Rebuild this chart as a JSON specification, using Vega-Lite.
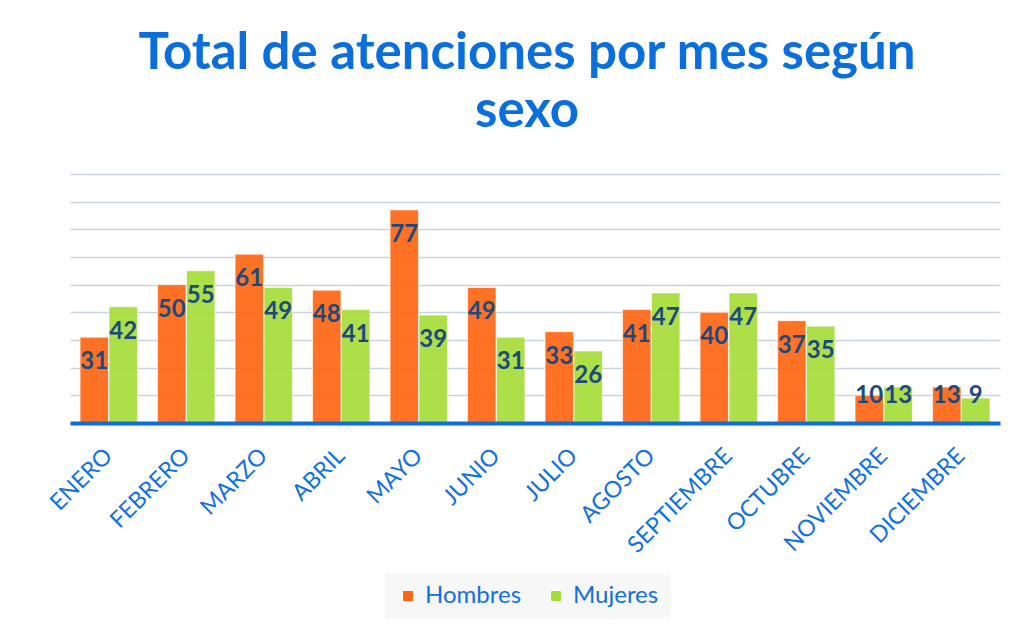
{
  "$schema": "https://vega.github.io/schema/vega-lite/v6.json",
  "width": 930,
  "height": 249,
  "autosize": {"type": "none"},
  "padding": {"left": 70, "top": 174, "right": 36, "bottom": 207},
  "background": "white",
  "config": {"view": {"stroke": null}},
  "title": {
    "text": ["Total de atenciones por mes según", "sexo"],
    "font": "Lato",
    "fontWeight": "bold",
    "fontSize": 51,
    "lineHeight": 58,
    "color": "#0a6fdc",
    "anchor": "middle",
    "dx": -8,
    "offset": 36
  },
  "data": {
    "values": [
      {"mes": "ENERO", "sexo": "Hombres", "valor": 31},
      {"mes": "ENERO", "sexo": "Mujeres", "valor": 42},
      {"mes": "FEBRERO", "sexo": "Hombres", "valor": 50},
      {"mes": "FEBRERO", "sexo": "Mujeres", "valor": 55},
      {"mes": "MARZO", "sexo": "Hombres", "valor": 61},
      {"mes": "MARZO", "sexo": "Mujeres", "valor": 49},
      {"mes": "ABRIL", "sexo": "Hombres", "valor": 48},
      {"mes": "ABRIL", "sexo": "Mujeres", "valor": 41},
      {"mes": "MAYO", "sexo": "Hombres", "valor": 77},
      {"mes": "MAYO", "sexo": "Mujeres", "valor": 39},
      {"mes": "JUNIO", "sexo": "Hombres", "valor": 49},
      {"mes": "JUNIO", "sexo": "Mujeres", "valor": 31},
      {"mes": "JULIO", "sexo": "Hombres", "valor": 33},
      {"mes": "JULIO", "sexo": "Mujeres", "valor": 26},
      {"mes": "AGOSTO", "sexo": "Hombres", "valor": 41},
      {"mes": "AGOSTO", "sexo": "Mujeres", "valor": 47},
      {"mes": "SEPTIEMBRE", "sexo": "Hombres", "valor": 40},
      {"mes": "SEPTIEMBRE", "sexo": "Mujeres", "valor": 47},
      {"mes": "OCTUBRE", "sexo": "Hombres", "valor": 37},
      {"mes": "OCTUBRE", "sexo": "Mujeres", "valor": 35},
      {"mes": "NOVIEMBRE", "sexo": "Hombres", "valor": 10},
      {"mes": "NOVIEMBRE", "sexo": "Mujeres", "valor": 13},
      {"mes": "DICIEMBRE", "sexo": "Hombres", "valor": 13},
      {"mes": "DICIEMBRE", "sexo": "Mujeres", "valor": 9}
    ]
  },
  "encoding": {
    "x": {
      "field": "mes",
      "type": "nominal",
      "sort": ["ENERO", "FEBRERO", "MARZO", "ABRIL", "MAYO", "JUNIO", "JULIO", "AGOSTO", "SEPTIEMBRE", "OCTUBRE", "NOVIEMBRE", "DICIEMBRE"],
      "scale": {"paddingInner": 0.26, "paddingOuter": 0.13},
      "axis": {
        "title": null,
        "labelAngle": -45,
        "labelAlign": "right",
        "labelBaseline": "middle",
        "labelColor": "#1170e0",
        "labelFont": "Lato",
        "labelFontSize": 23,
        "labelPadding": 29,
        "ticks": false,
        "domainColor": "#0b6fd6",
        "domainWidth": 4,
        "zindex": 2
      }
    },
    "xOffset": {"field": "sexo", "type": "nominal", "sort": ["Hombres", "Mujeres"], "scale": {"paddingInner": 0.02}},
    "y": {
      "field": "valor",
      "type": "quantitative",
      "scale": {"domain": [0, 90]},
      "axis": {
        "title": null,
        "labels": false,
        "ticks": false,
        "domain": false,
        "grid": true,
        "gridColor": "#c9d3df",
        "gridWidth": 1.5,
        "values": [10, 20, 30, 40, 50, 60, 70, 80, 90]
      }
    }
  },
  "layer": [
    {
      "mark": {"type": "bar", "stroke": "#ffffff", "strokeOpacity": 0.6, "strokeWidth": 1, "fillOpacity": 0.92},
      "encoding": {
        "color": {
          "field": "sexo",
          "type": "nominal",
          "scale": {"domain": ["Hombres", "Mujeres"], "range": ["#ff6612", "#a6dc38"]},
          "legend": {
            "title": null,
            "orient": "none",
            "legendX": 315,
            "legendY": 399,
            "direction": "horizontal",
            "fillColor": "#f7f7f7",
            "padding": 11,
            "symbolType": "square",
            "symbolSize": 130,
            "symbolOpacity": 1,
            "labelFont": "Lato",
            "labelFontSize": 24,
            "labelColor": "#1170e0",
            "labelOffset": 5,
            "columnPadding": 22
          }
        }
      }
    },
    {
      "mark": {
        "type": "text",
        "font": "Lato",
        "fontWeight": "bold",
        "fontSize": 24,
        "color": "#1b4a7e",
        "align": "center",
        "baseline": "middle",
        "dy": {"expr": "datum.valor >= 19 ? 25 : 25 - (19 - datum.valor) * 2.75"}
      },
      "encoding": {"text": {"field": "valor", "type": "quantitative"}}
    }
  ]
}
